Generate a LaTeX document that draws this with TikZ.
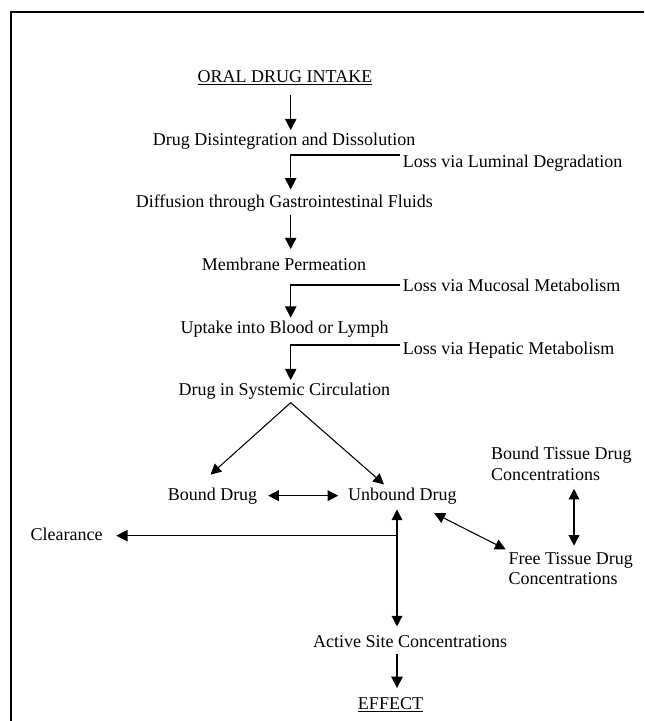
\documentclass[tikz,border=0pt]{standalone}
\usepackage{fontspec}
\setmainfont{Liberation Serif}
\usetikzlibrary{arrows.meta, positioning}

\begin{document}
\begin{tikzpicture}[x=0.75pt, y=-0.75pt, font=\fontsize{13.5}{15.5}\selectfont]
    % Styles
    \tikzstyle{txt} = [anchor=base, inner sep=2pt, text height=9.5pt, text depth=3pt]
    \tikzstyle{loss} = [txt, anchor=base west]
    \tikzstyle{tissue} = [anchor=north west, inner sep=2pt, align=left]
    \tikzstyle{line} = [draw, line width=1.1pt, -{Triangle[length=8.5pt, width=8.5pt]}]
    \tikzstyle{link} = [draw, line width=0.8pt, -{Triangle[length=8pt, width=8pt]}]
    \tikzstyle{twoway} = [draw, line width=1pt, {Triangle[length=8pt, width=8pt]}-{Triangle[length=8pt, width=8pt]}]

    \useasboundingbox (0,0) rectangle (644,721);
    \draw[line width=1.2pt] (644,12) -- (11,12) -- (11,721);

    % Nodes
    \node[txt] (intake) at (285,82) {\underline{ORAL DRUG INTAKE}};
    \node[txt] (dissolve) at (284,145.7) {Drug Disintegration and Dissolution};
    \node[txt] (diffuse) at (284.4,207.7) {Diffusion through Gastrointestinal Fluids};
    \node[txt] (permeate) at (284,270.7) {Membrane Permeation};
    \node[txt] (uptake) at (284.5,333.3) {Uptake into Blood or Lymph};
    \node[txt] (systemic) at (284.3,395.7) {Drug in Systemic Circulation};
    \node[txt] (bound) at (212.5,500) {Bound Drug};
    \node[txt] (unbound) at (402.4,500) {Unbound Drug};
    \node[txt] (clearance) at (66.7,540) {Clearance};
    \node[txt] (active) at (410,647) {Active Site Concentrations};
    \node[txt] (effect) at (390.5,709) {\underline{EFFECT}};

    \node[loss] (luminal) at (400,167.3) {Loss via Luminal Degradation};
    \node[loss] (mucosal) at (400,291.7) {Loss via Mucosal Metabolism};
    \node[loss] (hepatic) at (400,354) {Loss via Hepatic Metabolism};

    \node[tissue] (boundtissue) at (488.3,444) {Bound Tissue Drug\\Concentrations};
    \node[tissue] (freetissue) at (505.6,549.3) {Free Tissue Drug\\Concentrations};

    \coordinate (spine) at (290.7,0);
    \coordinate (stem) at (397,0);
    \coordinate (axis) at (574,0);

    % Edges
    \path[line, shorten <=4.7pt] (intake.south -| spine) -- (dissolve.north -| spine);
    \path[line] ([yshift=9.2pt]luminal.base west) -| ([yshift=2pt]diffuse.north -| spine);
    \path[line, shorten >=4.5pt] (diffuse.south -| spine) -- (permeate.north -| spine);
    \path[line] ([yshift=5pt]mucosal.base west) -| (uptake.north -| spine);
    \path[line] ([yshift=6.75pt]hepatic.base west) -| (systemic.north -| spine);

    \path[link] (systemic.south -| spine) -- ([xshift=-1.5pt,yshift=7.3pt]bound.north);
    \path[link] (systemic.south -| spine) -- ([xshift=-13.8pt]unbound.north);
    \path[twoway, shorten <=6pt, shorten >=5.2pt] (bound.east) -- (unbound.west);

    \path[twoway, shorten <=1.9pt, shorten >=3.7pt] (unbound.south -| stem) -- (active.north -| stem);
    \path[line, shorten >=8pt] (clearance.east -| stem) -- (clearance.east);
    \path[twoway, line width=0.8pt] ([xshift=-19pt,yshift=-4.7pt]unbound.south east) -- (freetissue.north west);
    \path[twoway, shorten <=4.2pt, shorten >=2.7pt] (boundtissue.south -| axis) -- (freetissue.north -| axis);
    \path[line, shorten >=4pt] (active.south -| stem) -- (effect.north -| stem);

\end{tikzpicture}
\end{document}
